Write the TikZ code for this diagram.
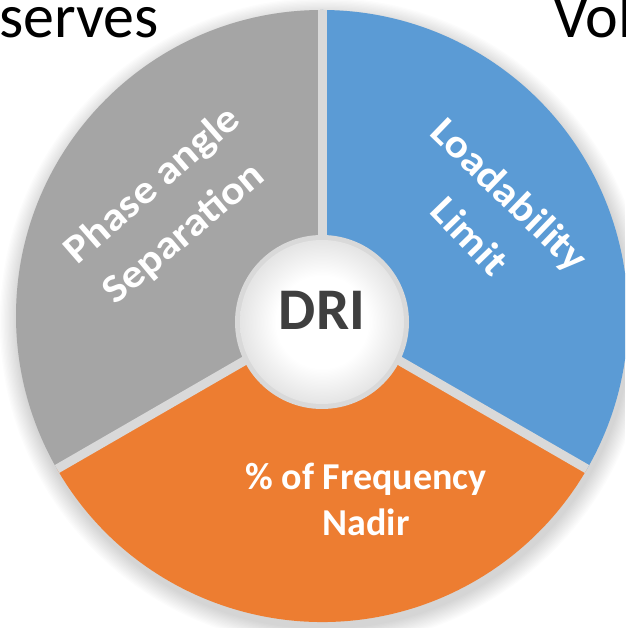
\documentclass[tikz,border=0pt]{standalone}
\usepackage{fontspec}
\setmainfont{Carlito}
\definecolor{pgray}{HTML}{A5A5A5}
\definecolor{pblue}{HTML}{5B9BD5}
\definecolor{porange}{HTML}{ED7D31}
\definecolor{gapc}{HTML}{D9D9D9}
\definecolor{dritext}{HTML}{3F3F3F}
\pgfdeclareradialshading{ballshade}{\pgfpoint{0bp}{0bp}}{color(0bp)=(white); color(14bp)=(white); color(25bp)=(gapc!70); color(50bp)=(gapc!70)}
\tikzset{
  sector/.style={draw=none},
  gapline/.style={draw=gapc, line width=9pt},
  slanted/.style={text=white, font=\bfseries\fontsize{40}{40}\selectfont\addfontfeatures{FakeStretch=1.1}, inner sep=0pt, anchor=center},
  whitetext/.style={text=white, font=\bfseries\fontsize{38}{38}\selectfont, inner sep=0pt},
  toptext/.style={text=black, font=\fontsize{62}{62}\selectfont, inner sep=0pt, anchor=base west},
}
\begin{document}
\begin{tikzpicture}[x=1pt,y=1pt]
\useasboundingbox (0,0) rectangle (625,628);
\clip (0,0) rectangle (625,628);
\fill[white] (0,0) rectangle (625,628);
\coordinate (C) at (322,312);
\coordinate (D) at (322,306);
\coordinate (S) at (324,306);
% soft shadow
\foreach \k in {1,...,14} {
  \fill[black, opacity=0.012] (S) circle ({306+\k*1.3});
}
\fill[gapc] (C) circle (306);
\fill[pgray, sector] (C) -- ([shift={(90:306)}]C) arc[start angle=90, end angle=210, radius=306] -- cycle;
\fill[pblue, sector] (C) -- ([shift={(-30:306)}]C) arc[start angle=-30, end angle=90, radius=306] -- cycle;
\fill[porange, sector] (C) -- ([shift={(210:306)}]C) arc[start angle=210, end angle=330, radius=306] -- cycle;
\foreach \a [count=\i] in {90,210,330} {
  \coordinate (g\i) at ([shift={(\a:306)}]C);
  \draw[gapline] (C) -- (g\i);
}
% centre disc
\fill[gapc] (D) circle (87);
\shade[shading=ballshade] (D) circle (82);
\node[text=dritext, font=\bfseries\fontsize{59}{59}\selectfont, inner sep=0pt, anchor=base] (dri) at (322,298) {DRI};
% slanted labels
\node[slanted, rotate=41] (p1) at (153,442) {Phase angle};
\node[slanted, rotate=40] (p2) at (184,394) {Separation};
\node[slanted, rotate=-44] (l1) at (508,432) {Loadability};
\node[slanted, rotate=-46] (l2) at (470,392) {Limit};
% orange labels
\node[whitetext, anchor=base] (f1) at (366,138) {\% of Frequency};
\node[whitetext, anchor=base] (f2) at (366,92) {Nadir};
% top texts
\node[toptext] (t1) at (-1,590) {serves};
\node[toptext] (t2) at (553,590) {Vol};
\end{tikzpicture}
\end{document}
